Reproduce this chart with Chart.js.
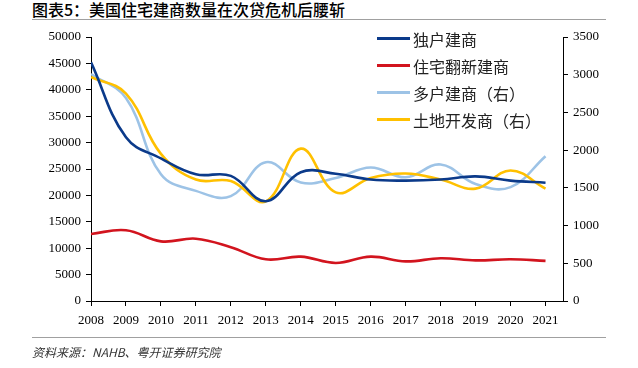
<!DOCTYPE html>
<html lang="zh">
  <head>
    <meta charset="UTF-8" />
    <title>美国住宅建商数量</title>
    <script src="https://cdn.jsdelivr.net/npm/chart.js"></script>
    <style>
      body { margin: 0; background: #fff; }
      #wrap { position: relative; width: 638px; height: 368px; overflow: hidden; }
      #c { position: absolute; left: 0; top: 0; }
      .title {
        position: absolute; left: 32px; top: 0px;
        font: 500 16px "Noto Sans CJK SC", sans-serif; color: #000;
        line-height: 19px; white-space: nowrap;
      }
      .rule { position: absolute; left: 32px; width: 574px; height: 1px; background: #a0a0a0; }
      .footer {
        position: absolute; left: 32px; top: 343px;
        font: italic 12px "Noto Sans CJK SC", sans-serif; color: #333; white-space: nowrap;
      }
      #legend { position: absolute; left: 377px; top: 25px; }
      #legend div { height: 27px; display: flex; align-items: center;
        font: 16px "Noto Sans CJK SC", sans-serif; color: #222; white-space: nowrap; }
      #legend span.ln { display: inline-block; width: 33px; height: 3px; margin-right: 3px; }
    </style>
  </head>
  <body>
    <div id="wrap">
      <div class="title">图表5：美国住宅建商数量在次贷危机后腰斩</div>
      <div class="rule" style="top: 19px"></div>
      <canvas id="c" width="638" height="368"></canvas>
      <div id="legend"></div>
      <div class="rule" style="top: 337px"></div>
      <div class="footer">资料来源：NAHB、粤开证券研究院</div>
    </div>

    <script>
      const years = [2008, 2009, 2010, 2011, 2012, 2013, 2014, 2015, 2016, 2017, 2018, 2019, 2020, 2021];
      const seriesNames = ["独户建商", "住宅翻新建商", "多户建商（右）", "土地开发商（右）"];
      // 左轴
      const singleFamily = [45200, 31000, 27000, 24000, 23700, 18900, 24400, 24100, 23000, 22800, 23000, 23600, 22800, 22400];
      const remodelers = [12700, 13400, 11300, 11800, 10200, 7900, 8400, 7200, 8400, 7500, 8100, 7700, 7900, 7600];
      // 右轴
      const multiFamily = [3010, 2690, 1680, 1460, 1390, 1840, 1570, 1630, 1770, 1640, 1810, 1550, 1510, 1920];
      const landDev = [2970, 2750, 1950, 1610, 1590, 1320, 2020, 1440, 1630, 1690, 1610, 1490, 1730, 1490];
      const leftTicks = { min: 0, max: 50000, step: 5000 };
      const rightTicks = { min: 0, max: 3500, step: 500 };

      const colors = ["#0b3a8a", "#d2141e", "#9dc3e6", "#ffc000"];
      const allData = [singleFamily, remodelers, multiFamily, landDev];
      const axisOf = ["yL", "yL", "yR", "yR"];

      const tickFont = { family: "'Liberation Serif', serif", size: 13 };

      const datasets = seriesNames.map((name, k) => ({
        label: name,
        data: years.map((y, i) => ({ x: y, y: allData[k][i] })),
        yAxisID: axisOf[k],
        borderColor: colors[k],
        backgroundColor: colors[k],
        borderWidth: 2.6,
        pointRadius: 0,
        tension: 0.4,
        fill: false,
      }));
      // 图例里蓝色在最上层
      datasets.forEach((d, k) => (d.order = k === 0 ? 0 : 4 - k));

      const legend = document.getElementById("legend");
      seriesNames.forEach((n, k) => {
        const row = document.createElement("div");
        row.innerHTML = `<span class="ln" style="background:${colors[k]}"></span>${n}`;
        legend.appendChild(row);
      });

      const axisGrid = { drawOnChartArea: false, drawTicks: true, tickLength: 5, color: "#000" };
      const axisBorder = { display: true, color: "#000", width: 1 };

      new Chart(document.getElementById("c"), {
        type: "line",
        data: { datasets },
        options: {
          responsive: false,
          devicePixelRatio: 1,
          animation: false,
          layout: { padding: { top: 37, left: 0, right: 0, bottom: 0 } },
          plugins: { legend: { display: false }, tooltip: { enabled: false } },
          scales: {
            x: {
              type: "linear",
              min: years[0],
              max: years[years.length - 1] + 0.5,
              afterFit: (s) => { s.height = 67; },
              grid: axisGrid,
              border: axisBorder,
              ticks: {
                stepSize: 1, includeBounds: false, autoSkip: false, maxRotation: 0,
                padding: 7, font: tickFont, color: "#000",
                callback: (v) => String(v),
              },
            },
            yL: {
              position: "left",
              min: leftTicks.min, max: leftTicks.max,
              afterFit: (s) => { s.width = 91; },
              grid: axisGrid,
              border: axisBorder,
              ticks: { stepSize: leftTicks.step, padding: 5, font: tickFont, color: "#000", callback: (v) => String(v) },
            },
            yR: {
              position: "right",
              min: rightTicks.min, max: rightTicks.max,
              afterFit: (s) => { s.width = 75; },
              grid: axisGrid,
              border: axisBorder,
              ticks: { stepSize: rightTicks.step, padding: 5, font: tickFont, color: "#000", callback: (v) => String(v) },
            },
          },
        },
      });
    </script>
  </body>
</html>
